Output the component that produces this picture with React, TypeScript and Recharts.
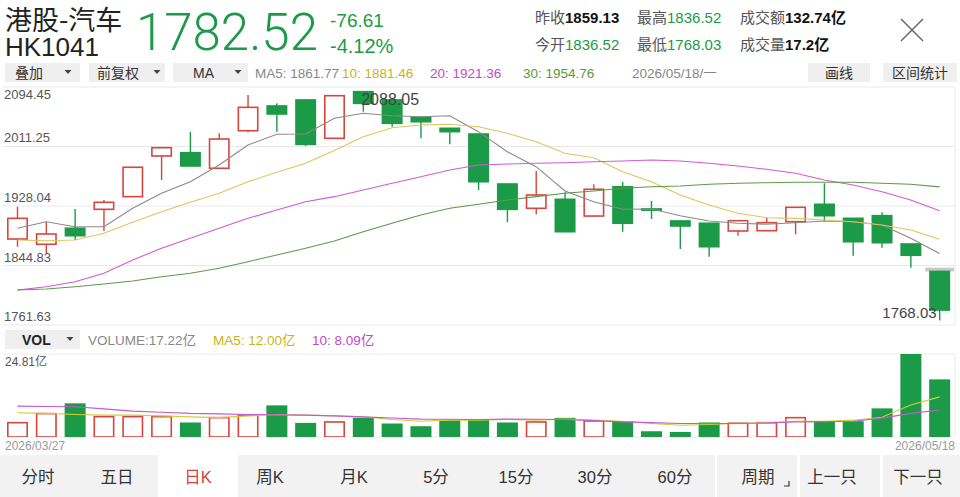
import React from "react"
import { ComposedChart, Bar, Line, XAxis, YAxis, CartesianGrid, ReferenceDot, ReferenceArea } from "recharts"

const RED = "#d4463e"
const GREEN = "#1b9a47"
const SANS = '"Liberation Sans", "Noto Sans CJK SC", sans-serif'
const CJK = '"Noto Sans CJK SC", "Liberation Sans", sans-serif'

// trading days shown on the daily K chart
const dates = [
  "2026/03/27", "2026/03/30", "2026/03/31", "2026/04/01", "2026/04/02", "2026/04/08", "2026/04/09",
  "2026/04/10", "2026/04/13", "2026/04/14", "2026/04/15", "2026/04/16", "2026/04/17", "2026/04/20",
  "2026/04/21", "2026/04/22", "2026/04/23", "2026/04/24", "2026/04/27", "2026/04/28", "2026/04/29",
  "2026/04/30", "2026/05/04", "2026/05/05", "2026/05/06", "2026/05/07", "2026/05/08", "2026/05/11",
  "2026/05/12", "2026/05/13", "2026/05/14", "2026/05/15", "2026/05/18",
]

const opens = [1881.9, 1874.5, 1896.9, 1923.4, 1941.1, 1998.0, 2002.6, 1980.8, 2033.3, 2067.9, 2076.3, 2022.7, 2087.9, 2076.3, 2052.1, 2036.7, 2028.7, 1958.8, 1924.8, 1937.4, 1914.0, 1955.0, 1923.9, 1907.1, 1903.9, 1893.1, 1893.5, 1906.1, 1930.4, 1910.8, 1914.5, 1874.9, 1836.52]
const highs = [1927.1, 1906.1, 1923.9, 1936.4, 1982.5, 2010.0, 2031.9, 2029.7, 2083.3, 2071.7, 2077.0, 2083.0, 2088.05, 2078.6, 2052.5, 2037.0, 2029.0, 1959.0, 1977.0, 1947.2, 1958.4, 1962.0, 1935.0, 1907.5, 1904.2, 1908.0, 1912.3, 1926.6, 1959.8, 1911.0, 1919.2, 1875.0, 1836.52]
const lows = [1871.1, 1861.9, 1880.5, 1893.1, 1940.8, 1964.4, 1983.5, 1980.0, 2031.1, 2032.0, 2012.0, 2022.0, 2059.9, 2038.9, 2022.7, 2014.3, 1950.4, 1905.3, 1916.4, 1891.5, 1913.5, 1892.1, 1909.9, 1867.9, 1857.1, 1886.5, 1893.0, 1888.5, 1906.1, 1858.5, 1869.7, 1841.8, 1768.03]
const closes = [1910.8, 1888.9, 1886.5, 1933.2, 1982.2, 2009.6, 1984.0, 2021.7, 2066.0, 2056.7, 2014.3, 2082.3, 2071.6, 2043.7, 2045.9, 2032.0, 1962.0, 1923.4, 1943.4, 1892.1, 1951.4, 1903.9, 1922.5, 1900.1, 1871.1, 1907.5, 1904.7, 1926.2, 1914.5, 1878.1, 1876.7, 1859.13, 1782.52]

const ma5 = [1896.9, 1906.1, 1899.1, 1899.1, 1924.8, 1945.8, 1962.0, 1985.4, 2013.4, 2028.3, 2028.7, 2050.7, 2057.7, 2054.3, 2052.9, 2054.3, 2032.0, 2004.0, 1983.0, 1949.0, 1934.0, 1923.4, 1923.9, 1914.5, 1907.1, 1903.9, 1902.5, 1904.7, 1907.1, 1906.1, 1901.5, 1882.9, 1861.77]
const ma10 = [1880.5, 1879.5, 1880.5, 1889.9, 1905.3, 1920.1, 1933.2, 1945.8, 1962.0, 1975.2, 1987.8, 2005.7, 2025.0, 2037.5, 2041.3, 2042.3, 2038.9, 2029.7, 2018.0, 2001.7, 1995.6, 1976.0, 1962.0, 1943.4, 1929.4, 1917.8, 1911.7, 1910.8, 1908.4, 1906.1, 1901.5, 1894.5, 1881.46]
const ma20 = [1810.6, 1815.2, 1822.2, 1833.9, 1852.5, 1868.9, 1882.9, 1896.9, 1910.8, 1922.4, 1934.0, 1941.1, 1950.4, 1959.8, 1969.0, 1978.4, 1985.4, 1986.8, 1987.8, 1988.6, 1990.0, 1991.0, 1992.4, 1991.0, 1987.8, 1984.0, 1979.4, 1973.8, 1964.4, 1957.4, 1948.0, 1936.4, 1921.36]
const ma30 = [1810.6, 1812.0, 1815.2, 1819.0, 1823.2, 1829.2, 1833.9, 1841.0, 1850.2, 1859.5, 1868.9, 1879.1, 1892.1, 1903.9, 1915.5, 1924.8, 1930.4, 1936.4, 1941.1, 1945.8, 1949.0, 1952.8, 1955.0, 1956.0, 1958.4, 1959.8, 1960.6, 1961.2, 1961.2, 1961.2, 1959.8, 1958.4, 1954.76]

// volume in 亿
const volumes = [4.52, 7.23, 10.06, 6.32, 6.32, 6.32, 4.34, 6.02, 6.74, 9.45, 4.22, 4.73, 5.72, 4.03, 3.22, 5.03, 5.24, 4.34, 4.73, 5.72, 5.03, 4.73, 1.72, 1.51, 4.34, 4.34, 4.52, 6.02, 4.73, 4.73, 8.55, 24.81, 17.22]
const volMa5 = [7.23, 7.05, 6.74, 6.53, 6.53, 6.32, 6.02, 5.8, 6.32, 6.74, 6.53, 6.32, 6.02, 5.24, 4.73, 5.03, 5.03, 5.24, 5.03, 5.33, 5.03, 4.73, 4.03, 3.52, 3.72, 4.03, 4.34, 4.73, 4.73, 5.03, 5.9, 9.55, 12.0]
const volMa10 = [9.24, 9.1, 9.03, 8.4, 7.74, 7.4, 7.05, 6.9, 6.74, 6.6, 6.53, 6.3, 6.02, 5.7, 5.33, 5.3, 5.24, 5.33, 5.3, 5.24, 4.9, 4.52, 4.3, 4.03, 4.03, 4.03, 4.2, 4.52, 4.6, 4.73, 5.63, 7.05, 8.09]

const priceTicks = [1761.63, 1844.83, 1928.04, 2011.25, 2094.45]
const volMax = 24.81

const rows = dates.map((date, i) => ({
  date,
  open: opens[i],
  high: highs[i],
  low: lows[i],
  close: closes[i],
  range: [lows[i], highs[i]],
  ma5: ma5[i],
  ma10: ma10[i],
  ma20: ma20[i],
  ma30: ma30[i],
  vol: volumes[i],
  vma5: volMa5[i],
  vma10: volMa10[i],
}))

function Candle(props: any) {
  const { x, y, width, height, payload } = props
  const top = height >= 0 ? y : y + height
  const h = Math.abs(height)
  const { open, close, high, low } = payload
  const yOf = (v: number) => top + ((high - v) / (high - low || 1)) * h
  const up = close >= open
  const color = up ? RED : GREEN
  const cx = x + width / 2
  const bTop = yOf(Math.max(open, close))
  const bBot = yOf(Math.min(open, close))
  return (
    <g>
      <line x1={cx} x2={cx} y1={top} y2={bTop} stroke={color} strokeWidth={1.4} />
      <line x1={cx} x2={cx} y1={bBot} y2={top + h} stroke={color} strokeWidth={1.4} />
      <rect
        x={x + 0.8}
        y={bTop}
        width={width - 1.6}
        height={Math.max(bBot - bTop, 1.2)}
        fill={up ? "#fff" : GREEN}
        stroke={color}
        strokeWidth={1.6}
      />
    </g>
  )
}

function VolBar(props: any) {
  const { x, y, width, height, payload } = props
  const up = payload.close >= payload.open
  return (
    <rect
      x={x + 0.8}
      y={y + 0.8}
      width={width - 1.6}
      height={Math.max(height - 0.8, 1)}
      fill={up ? "#fff" : GREEN}
      stroke={up ? RED : GREEN}
      strokeWidth={1.6}
    />
  )
}

function PriceTick(p: any) {
  const isTop = p.payload.value === priceTicks[priceTicks.length - 1]
  return (
    <text x={4} y={isTop ? p.y + 12 : p.y - 4} fontSize={13} fill="#555" fontFamily={SANS}>
      {p.payload.value.toFixed(2)}
    </text>
  )
}

function Caret({ x, y }: { x: number; y: number }) {
  return <polygon points={`${x - 3.5},${y - 2} ${x + 3.5},${y - 2} ${x},${y + 2}`} fill="#444" />
}

function Chrome() {
  const btn = "#efefef"
  return (
    <svg width={960} height={497} style={{ position: "absolute", left: 0, top: 0 }}>
      <rect x={0} y={0} width={960} height={497} fill="#fff" />
      {/* title */}
      <text x={5} y={30} fontSize={27} fill="#222" fontFamily={CJK}>港股-汽车</text>
      <text x={5} y={56} fontSize={26} fill="#222" fontFamily={SANS}>HK1041</text>
      <text x={136} y={50} fontSize={51} fill={GREEN} fontFamily='Roboto, "Liberation Sans", sans-serif' fontWeight={300}>1782.52</text>
      <text x={330} y={27} fontSize={19} fill={GREEN} fontFamily={SANS}>-76.61</text>
      <text x={330} y={53} fontSize={20} fill={GREEN} fontFamily={SANS}>-4.12%</text>

      {/* quote stats */}
      <g fontSize={15} fontFamily={SANS}>
        <text x={535} y={23}><tspan fill="#555">昨收</tspan><tspan fill="#111" fontWeight="bold">1859.13</tspan></text>
        <text x={637} y={23}><tspan fill="#555">最高</tspan><tspan fill={GREEN}>1836.52</tspan></text>
        <text x={740} y={23}><tspan fill="#555">成交额</tspan><tspan fill="#111" fontWeight="bold">132.74亿</tspan></text>
        <text x={535} y={50}><tspan fill="#555">今开</tspan><tspan fill={GREEN}>1836.52</tspan></text>
        <text x={637} y={50}><tspan fill="#555">最低</tspan><tspan fill={GREEN}>1768.03</tspan></text>
        <text x={740} y={50}><tspan fill="#555">成交量</tspan><tspan fill="#111" fontWeight="bold">17.2亿</tspan></text>
      </g>
      <line x1={901} y1={19} x2={923} y2={41} stroke="#666" strokeWidth={1.4} />
      <line x1={923} y1={19} x2={901} y2={41} stroke="#666" strokeWidth={1.4} />

      {/* toolbar */}
      <rect x={5} y={63} width={75} height={19} fill={btn} />
      <rect x={89} y={63} width={76} height={19} fill={btn} />
      <rect x={173} y={63} width={75} height={19} fill={btn} />
      <rect x={808} y={63} width={62} height={19} fill={btn} />
      <rect x={883} y={63} width={74} height={19} fill={btn} />
      <g fontSize={14} fill="#333" fontFamily={SANS}>
        <text x={15} y={78}>叠加</text>
        <text x={97} y={78}>前复权</text>
        <text x={193} y={78}>MA</text>
        <text x={839} y={78} textAnchor="middle">画线</text>
        <text x={920} y={78} textAnchor="middle">区间统计</text>
      </g>
      <Caret x={68} y={72} />
      <Caret x={157} y={72} />
      <Caret x={238} y={72} />
      <g fontSize={13.5} fontFamily={SANS}>
        <text x={255} y={78} fill="#888">MA5: 1861.77</text>
        <text x={342} y={78} fill="#c9b31c">10: 1881.46</text>
        <text x={430} y={78} fill="#c04bc6">20: 1921.36</text>
        <text x={523} y={78} fill="#5b9a3c">30: 1954.76</text>
        <text x={632} y={78} fill="#888">2026/05/18/一</text>
      </g>

      {/* volume header */}
      <rect x={5} y={330} width={75} height={19} fill={btn} />
      <text x={22} y={345} fontSize={14} fill="#222" fontFamily={SANS} fontWeight="bold">VOL</text>
      <Caret x={70} y={339} />
      <g fontSize={13.5} fontFamily={SANS}>
        <text x={88} y={345} fill="#888">VOLUME:17.22亿</text>
        <text x={213} y={345} fill="#c8b520">MA5: 12.00亿</text>
        <text x={312} y={345} fill="#c04bc6">10: 8.09亿</text>
      </g>
      <text x={5} y={366} fontSize={12} fill="#555" fontFamily={SANS}>24.81亿</text>
      <text x={5} y={450} fontSize={12} fill="#999" fontFamily={SANS}>{dates[0]}</text>
      <text x={955} y={450} fontSize={12} fill="#999" fontFamily={SANS} textAnchor="end">{dates[dates.length - 1]}</text>

      {/* period tabs */}
      <rect x={0} y={455} width={715} height={42} fill="#f2f2f2" />
      <rect x={717} y={455} width={80} height={42} fill="#f2f2f2" />
      <rect x={800} y={455} width={80} height={42} fill="#f2f2f2" />
      <rect x={883} y={455} width={77} height={42} fill="#f2f2f2" />
      <rect x={158} y={455} width={80} height={42} fill="#fff" />
      <g fontSize={16.5} fill="#333" fontFamily={SANS} textAnchor="middle">
        <text x={38} y={483}>分时</text>
        <text x={117} y={483}>五日</text>
        <text x={198} y={483} fill="#d9413a">日K</text>
        <text x={270} y={483}>周K</text>
        <text x={354} y={483}>月K</text>
        <text x={436} y={483}>5分</text>
        <text x={516} y={483}>15分</text>
        <text x={595} y={483}>30分</text>
        <text x={675} y={483}>60分</text>
        <text x={758} y={483}>周期</text>
        <text x={832} y={483}>上一只</text>
        <text x={918} y={483}>下一只</text>
      </g>
      <polyline points="789,481 789,486 784,486" fill="none" stroke="#333" strokeWidth={1.2} />
    </svg>
  )
}

export default function App() {
  return (
    <div style={{ position: "absolute", left: 0, top: 0, width: 960, height: 497, overflow: "hidden", background: "#fff" }}>
      <Chrome />

      <div style={{ position: "absolute", left: 0, top: 82 }}>
        <ComposedChart width={960} height={248} data={rows} margin={{ top: 5, right: 6, bottom: 5, left: 3 }}>
          <CartesianGrid stroke="#e9e9e9" verticalPoints={[955]} />
          <XAxis dataKey="date" hide />
          <YAxis
            domain={[priceTicks[0], priceTicks[priceTicks.length - 1]]}
            ticks={priceTicks}
            interval={0}
            width={1}
            mirror
            axisLine={false}
            tickLine={false}
            allowDataOverflow
            tick={PriceTick}
          />
          <ReferenceArea x1={dates[32]} x2={dates[32]} y1={1836.52} y2={1841.8} fill="#c8c8c8" fillOpacity={1} stroke="none" />
          <ReferenceDot
            x={dates[12]}
            y={2088.05}
            r={0}
            label={{
              content: (p: any) => (
                <text x={p.viewBox.x - 2} y={p.viewBox.y + 13} fontSize={16} fill="#444" fontFamily={SANS}>2088.05</text>
              ),
            }}
          />
          <ReferenceDot
            x={dates[32]}
            y={1768.03}
            r={0}
            label={{
              content: (p: any) => (
                <text x={p.viewBox.x - 3} y={p.viewBox.y - 2} fontSize={15} fill="#444" fontFamily={SANS} textAnchor="end">1768.03</text>
              ),
            }}
          />
          <Bar dataKey="range" barSize={21} shape={Candle} isAnimationActive={false} />
          <Line dataKey="ma5" stroke="#8a8a8a" strokeWidth={1.1} dot={false} isAnimationActive={false} />
          <Line dataKey="ma10" stroke="#e2c35c" strokeWidth={1.1} dot={false} isAnimationActive={false} />
          <Line dataKey="ma20" stroke="#d35ad6" strokeWidth={1.1} dot={false} isAnimationActive={false} />
          <Line dataKey="ma30" stroke="#5d9a4a" strokeWidth={1.1} dot={false} isAnimationActive={false} />
        </ComposedChart>
      </div>

      <div style={{ position: "absolute", left: 0, top: 350 }}>
        <ComposedChart width={960} height={90} data={rows} margin={{ top: 4, right: 6, bottom: 3, left: 3 }}>
          <CartesianGrid stroke="#ececec" verticalPoints={[955]} />
          <XAxis dataKey="date" hide />
          <YAxis domain={[0, volMax]} ticks={[0, volMax]} width={1} mirror axisLine={false} tickLine={false} tick={false} allowDataOverflow />
          <Bar dataKey="vol" barSize={21} shape={VolBar} isAnimationActive={false} />
          <Line dataKey="vma5" stroke="#d2cb3a" strokeWidth={1.1} dot={false} isAnimationActive={false} />
          <Line dataKey="vma10" stroke="#c45ad0" strokeWidth={1.1} dot={false} isAnimationActive={false} />
        </ComposedChart>
      </div>
    </div>
  )
}
